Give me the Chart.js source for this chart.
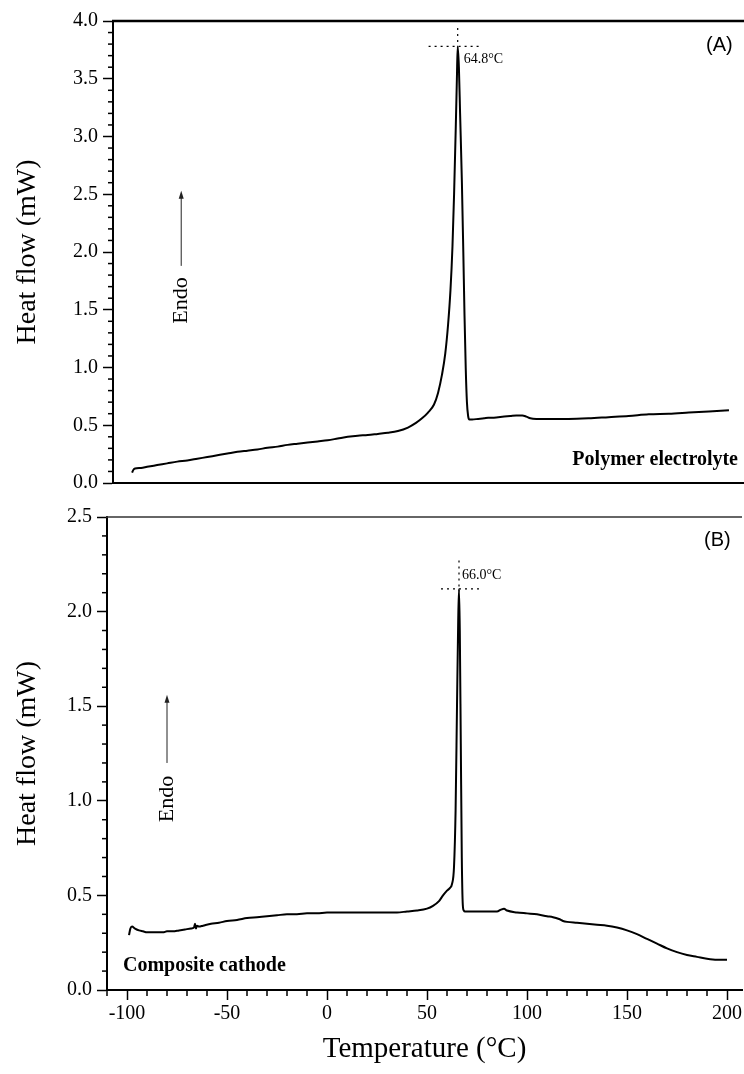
<!DOCTYPE html>
<html>
<head>
<meta charset="utf-8">
<script src="https://cdn.jsdelivr.net/npm/chart.js@4.4.0/dist/chart.umd.min.js"></script>
<style>
  html, body { margin: 0; padding: 0; background: #fff; }
  #wrap { position: relative; width: 744px; height: 1074px; }
  #topBox { position: absolute; left: 0; top: 0; width: 744px; height: 500px; }
  #botBox { position: absolute; left: 0; top: 500px; width: 744px; height: 574px; }
</style>
</head>
<body>
<div id="wrap">
  <div id="topBox"><canvas id="chartA"></canvas></div>
  <div id="botBox"><canvas id="chartB"></canvas></div>
</div>
<script>
// (A) polymer electrolyte DSC trace
const tempA = [-97.5, -96.8, -96, -93, -90, -85, -80, -75, -70, -65, -60, -55, -50, -45, -40, -35, -30, -25, -20, -15, -10, -5, 0, 5, 10, 15, 20, 25, 30, 35, 40, 44, 47, 50, 53, 55, 57, 58.6, 60, 61.2, 62.2, 63, 63.8, 64.4, 64.8, 65.4, 66, 66.9, 67.6, 68.2, 68.8, 69.4, 70, 70.6, 72, 75, 78, 80, 82, 85, 88, 91, 94, 97, 99, 101, 104, 110, 120, 130, 140, 150, 160, 170, 180, 190, 200];
const heatA = [0.09, 0.115, 0.125, 0.13, 0.14, 0.155, 0.17, 0.185, 0.195, 0.21, 0.225, 0.24, 0.255, 0.27, 0.28, 0.29, 0.305, 0.315, 0.33, 0.34, 0.35, 0.36, 0.37, 0.385, 0.40, 0.41, 0.415, 0.425, 0.435, 0.45, 0.48, 0.52, 0.56, 0.61, 0.68, 0.78, 0.94, 1.12, 1.37, 1.67, 2.05, 2.5, 3.05, 3.5, 3.78, 3.6, 3.2, 2.6, 2.0, 1.45, 1.0, 0.7, 0.58, 0.55, 0.55, 0.555, 0.56, 0.565, 0.565, 0.57, 0.575, 0.58, 0.585, 0.585, 0.575, 0.56, 0.555, 0.555, 0.555, 0.56, 0.57, 0.58, 0.595, 0.60, 0.61, 0.62, 0.63];

// (B) composite cathode DSC trace
const tempB = [-99, -98.3, -97.5, -96, -94, -92, -90, -88, -86, -84, -82, -80, -77, -74, -71, -68, -66.5, -66, -65.5, -65, -64, -62, -58, -54, -50, -45, -40, -35, -30, -25, -20, -15, -10, -5, 0, 5, 10, 15, 20, 25, 30, 35, 40, 45, 50, 53, 56, 58, 60, 61.5, 62.5, 63.5, 64.3, 65, 65.6, 66, 66.4, 66.9, 67.4, 67.9, 68.4, 69, 70, 75, 80, 85, 87, 88.5, 90, 95, 100, 105, 110, 113, 116, 118, 120, 125, 130, 135, 140, 145, 150, 155, 160, 165, 170, 175, 180, 185, 190, 195, 200];
const heatB = [0.29, 0.325, 0.335, 0.325, 0.315, 0.31, 0.305, 0.305, 0.305, 0.305, 0.305, 0.31, 0.31, 0.315, 0.32, 0.325, 0.33, 0.35, 0.325, 0.34, 0.335, 0.34, 0.35, 0.355, 0.365, 0.37, 0.38, 0.385, 0.39, 0.395, 0.40, 0.40, 0.405, 0.405, 0.41, 0.41, 0.41, 0.41, 0.41, 0.41, 0.41, 0.41, 0.415, 0.42, 0.43, 0.445, 0.47, 0.50, 0.525, 0.54, 0.56, 0.65, 0.95, 1.5, 1.95, 2.12, 1.9, 1.3, 0.7, 0.45, 0.42, 0.415, 0.415, 0.415, 0.415, 0.415, 0.425, 0.43, 0.42, 0.41, 0.405, 0.40, 0.39, 0.385, 0.375, 0.365, 0.36, 0.355, 0.35, 0.345, 0.34, 0.33, 0.315, 0.295, 0.27, 0.245, 0.22, 0.20, 0.185, 0.175, 0.165, 0.16, 0.16];

// axis ranges
const xRangeA = [-107, 207.5];
const xRangeB = [-110, 207.5];
const yRangeA = [0, 4];
const yRangeB = [0, 2.5];

// peak markers: [temperature, heat flow, top of vertical guide, left end, right end]
const peakA = [64.8, 3.78, 3.94, 50.3, 76.3];
const peakB = [66.0, 2.12, 2.27, 57, 76];
const peakLabels = ['64.8°C', '66.0°C'];

// "Endo" arrows: [x, tail y, tip y, text centre y]
const endoA = [-73, 1.88, 2.53, 1.58];
const endoB = [-80, 1.2, 1.56, 1.01];

const SERIF = "'Liberation Serif', 'Times New Roman', serif";
Chart.defaults.font.family = SERIF;
Chart.defaults.color = '#000';

function line(ctx, x1, y1, x2, y2) {
    ctx.beginPath();
    ctx.moveTo(x1, y1);
    ctx.lineTo(x2, y2);
    ctx.stroke();
}

// extra drawing: top frame, minor ticks, peak guides, arrows, labels
const decor = {
    id: 'decor',
    afterDraw(chart, args, opts) {
        const { ctx, chartArea: area, scales: { x, y } } = chart;
        ctx.save();

        // top frame line
        ctx.strokeStyle = opts.frameColor;
        ctx.lineWidth = opts.frameWidth;
        line(ctx, area.left - 1, area.top, area.right, area.top);

        // minor y ticks every 0.1
        ctx.strokeStyle = '#000';
        ctx.lineWidth = 1.5;
        for (let i = 0; i <= Math.round(y.max * 10); i++) {
            if (i % 5 === 0) continue;
            const py = y.getPixelForValue(i / 10);
            line(ctx, area.left - 5, py, area.left, py);
        }
        // minor x ticks every 10 (bottom panel only)
        if (opts.xMinor) {
            for (let v = -110; v <= 200; v += 10) {
                if (v % 50 === 0) continue;
                const px = x.getPixelForValue(v);
                line(ctx, px, area.bottom, px, area.bottom + 6);
            }
        }

        // peak guides
        const pk = opts.peak;
        const px = x.getPixelForValue(pk[0]);
        const py = y.getPixelForValue(pk[1]);
        ctx.setLineDash([2, 4]);
        ctx.lineWidth = 1.2;
        line(ctx, px, y.getPixelForValue(pk[2]), px, py);
        line(ctx, x.getPixelForValue(pk[3]), py, x.getPixelForValue(pk[4]), py);
        ctx.setLineDash([]);
        ctx.font = '14px ' + SERIF;
        ctx.fillStyle = '#000';
        ctx.textAlign = 'left';
        ctx.textBaseline = 'middle';
        ctx.fillText(opts.peakLabel, px + opts.peakLabelDx, py + opts.peakLabelDy);

        // Endo arrow
        const e = opts.endo;
        const ex = x.getPixelForValue(e[0]);
        const tail = y.getPixelForValue(e[1]);
        const tip = y.getPixelForValue(e[2]);
        ctx.strokeStyle = '#222';
        ctx.fillStyle = '#222';
        ctx.lineWidth = 1;
        line(ctx, ex, tail, ex, tip + 6);
        ctx.beginPath();
        ctx.moveTo(ex, tip);
        ctx.lineTo(ex - 2.5, tip + 8);
        ctx.lineTo(ex + 2.5, tip + 8);
        ctx.closePath();
        ctx.fill();
        ctx.save();
        ctx.translate(ex, y.getPixelForValue(e[3]));
        ctx.rotate(-Math.PI / 2);
        ctx.font = '22px ' + SERIF;
        ctx.fillStyle = '#000';
        ctx.textAlign = 'center';
        ctx.textBaseline = 'middle';
        ctx.fillText('Endo', 0, 0);
        ctx.restore();

        // panel letter
        ctx.font = "20px 'Liberation Sans', Arial, sans-serif";
        ctx.fillStyle = '#000';
        ctx.textAlign = 'left';
        ctx.textBaseline = 'middle';
        ctx.fillText(opts.letter, area.right - 38, area.top + opts.letterDy);

        // sample name
        ctx.font = 'bold 20px ' + SERIF;
        ctx.textAlign = opts.nameAlign;
        const nx = opts.nameAlign === 'right' ? area.right - 6 : area.left + 16;
        ctx.fillText(opts.name, nx, area.bottom - opts.nameDy);

        ctx.restore();
    }
};

function yAxis(range, width) {
    return {
        type: 'linear',
        min: range[0],
        max: range[1],
        afterFit: (scale) => { scale.width = width; },
        border: { display: true, color: '#000', width: 2 },
        grid: { display: true, drawOnChartArea: false, drawTicks: true, tickLength: 10, tickWidth: 1.5, color: '#000' },
        ticks: {
            stepSize: 0.5,
            padding: 5,
            font: { size: 20 },
            color: '#000',
            callback: (v) => Number(v).toFixed(1)
        },
        title: {
            display: true,
            text: 'Heat flow (mW)',
            font: { size: 28, lineHeight: 1 },
            padding: { top: 14, bottom: 0 },
            color: '#000'
        }
    };
}

function trace(xs, ys) {
    return {
        data: xs.map((t, i) => ({ x: t, y: ys[i] })),
        borderColor: '#000',
        borderWidth: 2,
        pointRadius: 0,
        fill: false,
        cubicInterpolationMode: 'monotone'
    };
}

const baseOptions = {
    responsive: true,
    maintainAspectRatio: false,
    animation: false,
    devicePixelRatio: 1,
    events: []
};

const chartA = new Chart(document.getElementById('chartA'), {
    type: 'line',
    data: { datasets: [trace(tempA, heatA)] },
    options: {
        ...baseOptions,
        layout: { padding: { top: 21, right: 0, bottom: 0, left: 0 } },
        scales: {
            x: {
                type: 'linear',
                min: xRangeA[0],
                max: xRangeA[1],
                afterFit: (scale) => { scale.height = 10; },
                border: { display: true, color: '#000', width: 2 },
                grid: { display: false },
                ticks: { display: false }
            },
            y: yAxis(yRangeA, 113)
        },
        plugins: {
            legend: { display: false },
            tooltip: { enabled: false },
            decor: {
                frameColor: '#000', frameWidth: 2.5, xMinor: false,
                peak: peakA, peakLabel: peakLabels[0], peakLabelDx: 6, peakLabelDy: 13,
                endo: endoA,
                letter: '(A)', letterDy: 24,
                name: 'Polymer electrolyte', nameAlign: 'right', nameDy: 23
            }
        }
    },
    plugins: [decor]
});

const chartB = new Chart(document.getElementById('chartB'), {
    type: 'line',
    data: { datasets: [trace(tempB, heatB)] },
    options: {
        ...baseOptions,
        layout: { padding: { top: 17, right: 0, bottom: 0, left: 0 } },
        scales: {
            x: {
                type: 'linear',
                min: xRangeB[0],
                max: xRangeB[1],
                afterFit: (scale) => { scale.height = 84; },
                border: { display: true, color: '#000', width: 2 },
                grid: { display: true, drawOnChartArea: false, drawTicks: true, tickLength: 10, tickWidth: 1.5, color: '#000' },
                ticks: {
                    stepSize: 50,
                    includeBounds: false,
                    padding: 2,
                    maxRotation: 0,
                    font: { size: 20 },
                    color: '#000'
                },
                title: {
                    display: true,
                    text: 'Temperature (°C)',
                    font: { size: 29, lineHeight: 1 },
                    padding: { top: 0, bottom: 10 },
                    color: '#000'
                }
            },
            y: yAxis(yRangeB, 107)
        },
        plugins: {
            legend: { display: false },
            tooltip: { enabled: false },
            decor: {
                frameColor: '#333', frameWidth: 1.5, xMinor: true,
                peak: peakB, peakLabel: peakLabels[1], peakLabelDx: 3, peakLabelDy: -14,
                endo: endoB,
                letter: '(B)', letterDy: 23,
                name: 'Composite cathode', nameAlign: 'left', nameDy: 24
            }
        }
    },
    plugins: [decor]
});
</script>
</body>
</html>
